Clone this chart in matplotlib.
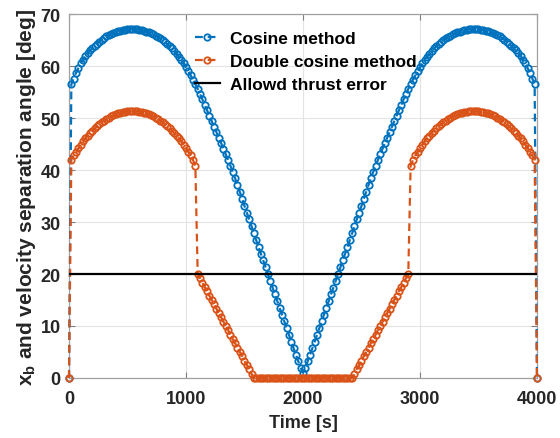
import numpy as np
import matplotlib
matplotlib.use("Agg")
import matplotlib.pyplot as plt

plt.rcParams['font.family'] = ['Liberation Sans', 'DejaVu Sans']
plt.rcParams['font.weight'] = 'bold'
plt.rcParams['mathtext.fontset'] = 'custom'
plt.rcParams['mathtext.rm'] = 'Liberation Sans:bold'
plt.rcParams['mathtext.bf'] = 'Liberation Sans:bold'
plt.rcParams['mathtext.default'] = 'bf'

# time samples [s]
time_s = np.arange(0, 4001, 20)

cosine_method = [
    0, 56.5, 57.6, 58.7, 59.6, 60.5, 61.2, 61.9, 62.5, 63.0, 63.4,
    63.9, 64.3, 64.7, 65.1, 65.4, 65.7, 66.0, 66.2, 66.4, 66.6,
    66.7, 66.8, 66.9, 67.0, 67.1, 67.1, 67.2, 67.1, 67.1, 67.0,
    66.9, 66.8, 66.6, 66.5, 66.3, 66.1, 65.8, 65.6, 65.3, 65.0,
    64.6, 64.2, 63.8, 63.4, 62.9, 62.4, 61.8, 61.2, 60.5, 59.8,
    59.0, 58.2, 57.4, 56.5, 55.6, 54.6, 53.6, 52.5, 51.5, 50.4,
    49.4, 48.3, 47.3, 46.2, 45.2, 44.1, 43.0, 41.9, 40.8, 39.6,
    38.4, 37.1, 35.8, 34.5, 33.1, 31.8, 30.5, 29.2, 27.8, 26.5,
    25.2, 23.9, 22.6, 21.3, 20.0, 18.7, 17.4, 16.1, 14.8, 13.5,
    12.2, 10.9, 9.6, 8.3, 7.0, 5.7, 4.5, 3.2, 2.0, 1.0,
    2.0, 3.2, 4.5, 5.7, 7.0, 8.3, 9.6, 10.9, 12.2, 13.5,
    14.8, 16.1, 17.4, 18.7, 20.0, 21.3, 22.6, 23.9, 25.2, 26.5,
    27.8, 29.2, 30.5, 31.8, 33.1, 34.5, 35.8, 37.1, 38.4, 39.6,
    40.8, 41.9, 43.0, 44.1, 45.2, 46.2, 47.3, 48.3, 49.4, 50.4,
    51.5, 52.5, 53.6, 54.6, 55.6, 56.5, 57.4, 58.2, 59.0, 59.8,
    60.5, 61.2, 61.8, 62.4, 62.9, 63.4, 63.8, 64.2, 64.6, 65.0,
    65.3, 65.6, 65.8, 66.1, 66.3, 66.5, 66.6, 66.8, 66.9, 67.0,
    67.1, 67.1, 67.2, 67.1, 67.1, 67.0, 66.9, 66.8, 66.7, 66.6,
    66.4, 66.2, 66.0, 65.7, 65.4, 65.1, 64.7, 64.3, 63.9, 63.4,
    63.0, 62.5, 61.9, 61.2, 60.5, 59.6, 58.7, 57.6, 56.5, 0,
]

double_cosine_method = [
    0, 42.0, 42.8, 43.5, 44.2, 44.9, 45.5, 46.1, 46.6, 47.1, 47.6,
    48.0, 48.4, 48.8, 49.2, 49.5, 49.8, 50.1, 50.3, 50.5, 50.7,
    50.9, 51.0, 51.1, 51.2, 51.3, 51.3, 51.4, 51.3, 51.3, 51.2,
    51.1, 51.0, 50.9, 50.7, 50.5, 50.3, 50.1, 49.8, 49.5, 49.2,
    48.8, 48.4, 48.0, 47.6, 47.1, 46.6, 46.1, 45.5, 44.9, 44.2,
    43.5, 42.8, 41.9, 40.8, 20.0, 19.2, 18.3, 17.5, 16.7, 15.8,
    15.0, 14.2, 13.3, 12.5, 11.7, 10.8, 10.0, 9.2, 8.3, 7.5,
    6.7, 5.8, 5.0, 4.2, 3.3, 2.5, 1.7, 0.8, 0, 0,
    0, 0, 0, 0, 0, 0, 0, 0, 0, 0,
    0, 0, 0, 0, 0, 0, 0, 0, 0, 0,
    0, 0, 0, 0, 0, 0, 0, 0, 0, 0,
    0, 0, 0, 0, 0, 0, 0, 0, 0, 0,
    0, 0.8, 1.7, 2.5, 3.3, 4.2, 5.0, 5.8, 6.7, 7.5,
    8.3, 9.2, 10.0, 10.8, 11.7, 12.5, 13.3, 14.2, 15.0, 15.8,
    16.7, 17.5, 18.3, 19.2, 20.0, 40.8, 41.9, 42.8, 43.5, 44.2,
    44.9, 45.5, 46.1, 46.6, 47.1, 47.6, 48.0, 48.4, 48.8, 49.2,
    49.5, 49.8, 50.1, 50.3, 50.5, 50.7, 50.9, 51.0, 51.1, 51.2,
    51.3, 51.3, 51.4, 51.3, 51.3, 51.2, 51.1, 51.0, 50.9, 50.7,
    50.5, 50.3, 50.1, 49.8, 49.5, 49.2, 48.8, 48.4, 48.0, 47.6,
    47.1, 46.6, 46.1, 45.5, 44.9, 44.2, 43.5, 42.8, 42.0, 0,
]

thrust_time = [0, 4000]
allowed_thrust_error = [20, 20]

series_labels = ['Cosine method', 'Double cosine method', 'Allowd thrust error']
x_ticks = [0, 1000, 2000, 3000, 4000]
y_ticks = [0, 10, 20, 30, 40, 50, 60, 70]

blue = '#0072BD'
orange = '#D95319'

fig = plt.figure(figsize=(5.6, 4.39), dpi=100)
ax = fig.add_axes([0.1232, 0.1367, 0.8357, 0.829])

dash = (0, (3.5, 2.2))
mk = dict(marker='o', markersize=4.6, markerfacecolor='none', markeredgewidth=1.3)
ax.plot(time_s, cosine_method, color=blue, linestyle=dash, lw=1.6,
        clip_on=False, label=series_labels[0], zorder=3, **mk)
ax.plot(time_s, double_cosine_method, color=orange, linestyle=dash, lw=1.6,
        clip_on=False, label=series_labels[1], zorder=4, **mk)
ax.plot(thrust_time, allowed_thrust_error, color='black', lw=1.6,
        label=series_labels[2], zorder=5)

ax.set_xlim(0, 4000)
ax.set_ylim(0, 70)
ax.set_xticks(x_ticks)
ax.set_yticks(y_ticks)
ax.grid(True, color='#e3e3e3', lw=0.8)
ax.set_axisbelow(True)
for sp in ax.spines.values():
    sp.set_color('#a0a0a0')
    sp.set_linewidth(0.9)
ax.tick_params(direction='in', length=4, width=0.8, color='#808080',
               top=True, right=True, labelsize=13, labelcolor='#262626')
ax.tick_params(axis='x', pad=9)
ax.tick_params(axis='y', pad=6)
for lab in ax.get_xticklabels() + ax.get_yticklabels():
    lab.set_fontweight('bold')

ax.set_xlabel('Time [s]', fontsize=13, fontweight='bold', color='#262626', labelpad=5)
ax.set_ylabel(r'x$_\mathbf{b}$ and velocity separation angle [deg]', fontsize=15,
              fontweight='bold', color='#262626', labelpad=2)

leg = ax.legend(loc='upper left', bbox_to_anchor=(0.269, 0.955), frameon=False,
                borderpad=0, borderaxespad=0, handlelength=1.45, handletextpad=0.55,
                labelspacing=0.47, prop={'weight': 'bold', 'size': 12.5})
for t in leg.get_texts():
    t.set_color('black')

fig.savefig('out.png', dpi=100)
